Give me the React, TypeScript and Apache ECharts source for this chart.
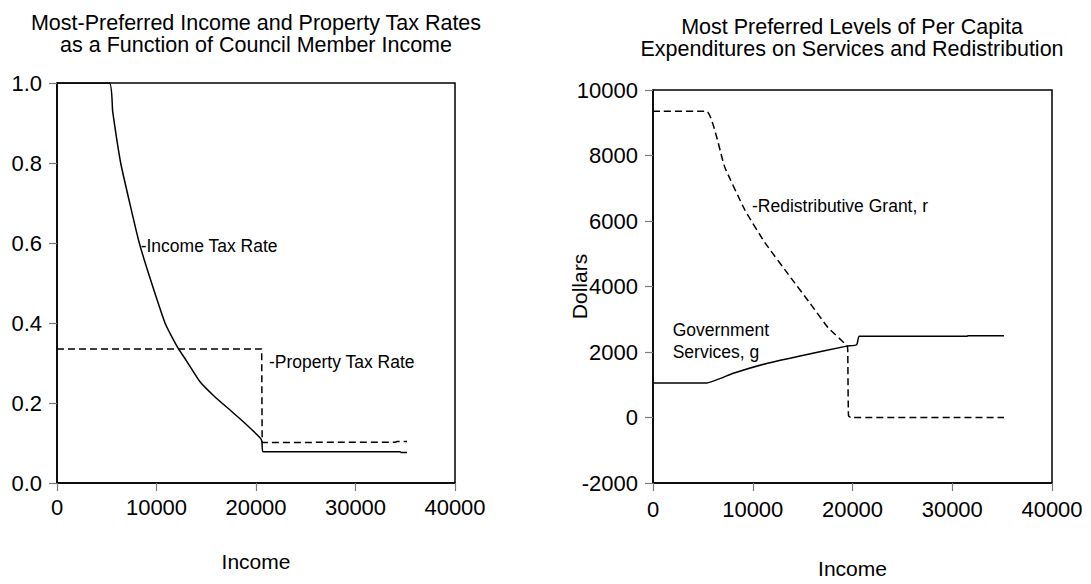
import React, { useEffect, useRef } from "react";
import * as echarts from "echarts";

// ---- Left panel: tax rates vs income ----
const incomeTaxRate: [number, number][] = [
  [0, 1.0], [5257, 1.0], [5595, 0.929], [6400, 0.8], [7505, 0.679], [8270, 0.6],
  [9347, 0.5125], [10854, 0.4], [11425, 0.371], [12150, 0.338], [13000, 0.306],
  [14372, 0.253], [15800, 0.217], [17387, 0.1825], [19000, 0.147], [20450, 0.112],
  [20600, 0.103], [20700, 0.078], [34472, 0.078], [34600, 0.076], [35176, 0.076],
];
const propertyTaxRate: [number, number][] = [
  [0, 0.335], [20570, 0.335], [20620, 0.101], [25700, 0.101], [25800, 0.102],
  [34000, 0.102], [34200, 0.104], [35176, 0.104],
];

// ---- Right panel: expenditures vs income ----
const redistributiveGrant: [number, number][] = [
  [0, 9350], [5343, 9350], [7188, 7651], [9193, 6349], [11198, 5350], [13865, 4249],
  [15740, 3490], [17544, 2749], [19418, 2200], [19518, 2100], [19600, 50],
  [19850, 0], [35188, 0],
];
const governmentServices: [number, number][] = [
  [0, 1050], [5313, 1050], [8050, 1351], [11398, 1651], [14737, 1879],
  [19418, 2179], [20421, 2221], [20682, 2479], [31449, 2479], [31600, 2500], [35188, 2500],
];

const leftYTicks = { min: 0, max: 1, interval: 0.2 };
const rightYTicks = { min: -2000, max: 10000, interval: 2000 };
const xTicks = { min: 0, max: 40000, interval: 10000 };

const leftTitle = ["Most-Preferred Income and Property Tax Rates", "as a Function of Council Member Income"];
const rightTitle = ["Most Preferred Levels of Per Capita", "Expenditures on Services and Redistribution"];

const FONT = "'Liberation Sans', Arial, Helvetica, sans-serif";

function axisCommon(labelMargin: number) {
  return {
    axisLine: { show: true, onZero: false, lineStyle: { color: "#000", width: 1.5 } },
    axisTick: { show: true, length: 8, inside: false, lineStyle: { color: "#7a7a7a", width: 1.2 } },
    axisLabel: {
      color: "#000", fontSize: 22, fontFamily: FONT, margin: labelMargin,
      showMaxLabel: true, showMinLabel: true, formatter: (v: number) => String(v),
    },
    splitLine: { show: false },
    nameMoveOverlap: false,
  };
}

function note(coord: [number, number], text: string) {
  return {
    symbol: "circle",
    symbolSize: 0,
    silent: true,
    data: [
      {
        coord,
        label: {
          show: true,
          position: "inside",
          align: "left",
          verticalAlign: "middle",
          formatter: text,
          color: "#000",
          fontSize: 17.5,
          lineHeight: 22,
          fontFamily: FONT,
        },
      },
    ],
  };
}

export default function App() {
  const ref = useRef<HTMLDivElement>(null);
  useEffect(() => {
    if (!ref.current) return;
    const chart = echarts.init(ref.current, undefined, { renderer: "svg" });
    const titleStyle = (t: string, x: number, y: number) => ({
      type: "text",
      x,
      y,
      style: { text: t, fill: "#000", font: `21.5px ${FONT}`, textAlign: "center", textVerticalAlign: "middle" },
    });
    const nameStyle = { color: "#000", fontSize: 21, fontFamily: FONT };
    chart.setOption({
      animation: false,
      backgroundColor: "#fff",
      grid: [
        { left: 57, top: 83, width: 398, height: 400, show: true, borderColor: "#000", borderWidth: 1.5, backgroundColor: "transparent" },
        { left: 653, top: 90, width: 399, height: 400, show: true, borderColor: "#000", borderWidth: 1.5, backgroundColor: "transparent" },
      ],
      xAxis: [
        {
          type: "value", gridIndex: 0, ...xTicks, ...axisCommon(13),
          name: "Income", nameLocation: "middle", nameGap: 68, nameTextStyle: nameStyle,
        },
        {
          type: "value", gridIndex: 1, ...xTicks, ...axisCommon(15),
          name: "Income", nameLocation: "middle", nameGap: 75, nameTextStyle: nameStyle,
        },
      ],
      yAxis: [
        {
          type: "value", gridIndex: 0, ...leftYTicks, ...axisCommon(15),
          axisLabel: { ...axisCommon(15).axisLabel, formatter: (v: number) => v.toFixed(1) },
        },
        {
          type: "value", gridIndex: 1, ...rightYTicks, ...axisCommon(15),
          name: "Dollars", nameLocation: "middle", nameGap: 63, nameTextStyle: nameStyle,
        },
      ],
      graphic: [
        titleStyle(leftTitle[0], 256, 23),
        titleStyle(leftTitle[1], 256, 45),
        titleStyle(rightTitle[0], 852, 27),
        titleStyle(rightTitle[1], 852, 49),
      ],
      series: [
        {
          type: "line", xAxisIndex: 0, yAxisIndex: 0, data: incomeTaxRate, showSymbol: false,
          smooth: 0.15,
          lineStyle: { color: "#000", width: 1.5 },
          markPoint: note([8410, 0.5925], "-Income Tax Rate"),
        },
        {
          type: "line", xAxisIndex: 0, yAxisIndex: 0, data: propertyTaxRate, showSymbol: false,
          lineStyle: { color: "#000", width: 1.5, type: [7, 4] },
          markPoint: note([21307, 0.303], "-Property Tax Rate"),
        },
        {
          type: "line", xAxisIndex: 1, yAxisIndex: 1, data: redistributiveGrant, showSymbol: false,
          smooth: 0.15,
          lineStyle: { color: "#000", width: 1.5, type: [7, 4] },
          markPoint: note([9925, 6460], "-Redistributive Grant, r"),
        },
        {
          type: "line", xAxisIndex: 1, yAxisIndex: 1, data: governmentServices, showSymbol: false,
          smooth: 0.15,
          lineStyle: { color: "#000", width: 1.5 },
          markPoint: note([1975, 2326], "Government\nServices, g"),
        },
      ],
    });
    return () => chart.dispose();
  }, []);
  return (
    <div
      ref={ref}
      style={{ position: "absolute", left: 0, top: 0, width: 1091, height: 584, background: "#fff" }}
    />
  );
}
